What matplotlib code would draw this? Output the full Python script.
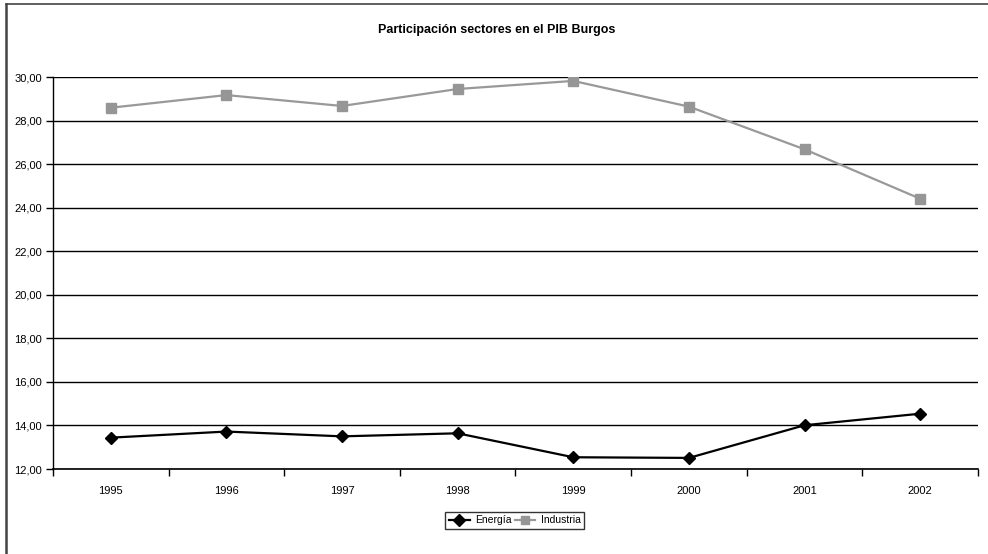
import numpy as np
import matplotlib.pyplot as plt
from matplotlib.lines import Line2D

plt.rcParams['font.family'] = ['Liberation Sans', 'DejaVu Sans']

# Data
years = ["1995", "1996", "1997", "1998", "1999", "2000", "2001", "2002"]
energia = [13.44, 13.72, 13.50, 13.64, 12.54, 12.51, 14.01, 14.54]
industria = [28.59, 29.17, 28.67, 29.45, 29.82, 28.64, 26.68, 24.41]

fig = plt.figure(figsize=(9.88, 5.54), dpi=100)
ax = fig.add_axes([0.0536, 0.1534, 0.9363, 0.7076])

x = np.arange(len(years))
ax.plot(x, energia, color='black', lw=1.6, marker='D', markersize=6.5,
        markerfacecolor='black', markeredgecolor='black', label='Energía', zorder=3)
ax.plot(x, industria, color='#999999', lw=1.6, marker='s', markersize=6.5,
        markerfacecolor='#969696', markeredgecolor='#969696', label='Industria', zorder=3)

ax.set_xlim(-0.5, len(years) - 0.5)
ax.set_ylim(12, 30)
ax.set_yticks(np.arange(12, 31, 2))
ax.set_yticklabels([f"{v:.2f}".replace('.', ',') for v in np.arange(12, 31, 2)], fontsize=8)
ax.set_xticks(x)
ax.set_xticklabels(years, fontsize=8)
ax.set_xticks(np.arange(-0.5, len(years)), minor=True)
ax.tick_params(axis='x', which='major', length=0, pad=12)
ax.tick_params(axis='x', which='minor', length=5, width=1, direction='out')
ax.tick_params(axis='y', length=5, width=1, direction='out', pad=3)
ax.grid(axis='y', color='black', lw=1)
ax.set_axisbelow(True)

for side in ['top', 'right']:
    ax.spines[side].set_visible(False)
ax.spines['left'].set_linewidth(1)
ax.spines['bottom'].set_linewidth(1.2)

fig.text(0.503, 0.946, "Participación sectores en el PIB Burgos",
         ha='center', va='center', fontsize=9, fontweight='bold')

leg = fig.legend(loc='center', bbox_to_anchor=(0.521, 0.061), ncol=2, fontsize=7.5,
                 frameon=True, fancybox=False, edgecolor='black', handlelength=2.0,
                 handletextpad=0.5, columnspacing=0.3, borderpad=0.35, markerscale=0.9)
leg.get_frame().set_linewidth(1)

# chart area border (top and left visible)
fig.add_artist(Line2D([6 / 988, 6 / 988], [0, 1 - 4 / 554], transform=fig.transFigure,
                      color='#444444', lw=1.8))
fig.add_artist(Line2D([6 / 988, 1], [1 - 4 / 554, 1 - 4 / 554], transform=fig.transFigure,
                      color='#444444', lw=1.2))

fig.savefig("out.png", dpi=100)
